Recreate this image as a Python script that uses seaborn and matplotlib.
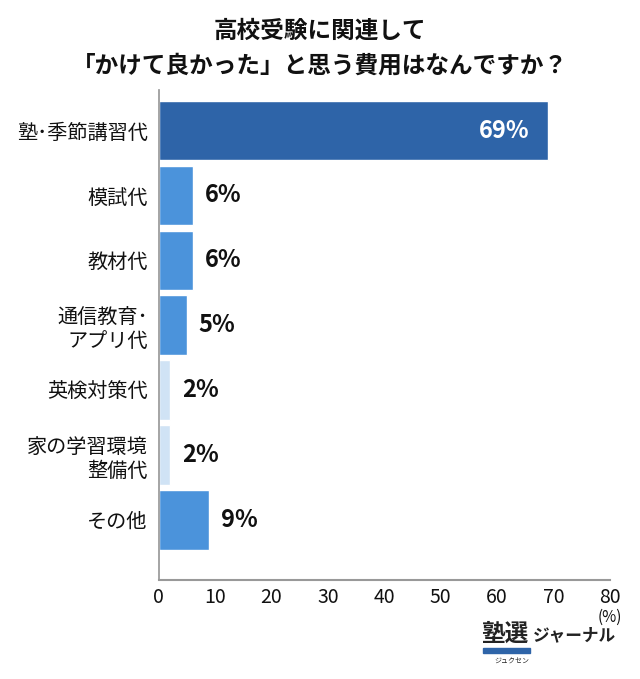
import matplotlib
matplotlib.use("Agg")
import matplotlib.pyplot as plt
import seaborn as sns
import pandas as pd

categories = ["塾･季節講習代", "模試代", "教材代", "通信教育･\nアプリ代", "英検対策代", "家の学習環境\n整備代", "その他"]
values = [69, 6, 6, 5, 2, 2, 9]
bar_colors = ["#2e64a8", "#4b93db", "#4b93db", "#4b93db", "#d0e3f5", "#d0e3f5", "#4b93db"]
x_ticks = [0, 10, 20, 30, 40, 50, 60, 70, 80]

sns.set_theme(style="white")
plt.rcParams["font.family"] = ["Noto Sans CJK JP", "DejaVu Sans"]

df = pd.DataFrame({"category": categories, "value": values})

fig = plt.figure(figsize=(6.4, 6.79), dpi=100)
ax = fig.add_axes([0.248, 0.146, 0.705, 0.721])

sns.barplot(data=df, x="value", y="category", hue="category", palette=bar_colors,
            legend=False, width=0.92, orient="h", ax=ax, saturation=1)

# 値ラベル
for i, v in enumerate(values):
    if v > 50:
        ax.text(v - 3.3, i, f"{v}%", color="white", fontsize=17, fontweight="bold",
                ha="right", va="center")
    else:
        ax.text(v + 2.1, i, f"{v}%", color="#111111", fontsize=17, fontweight="bold",
                ha="left", va="center")

ax.set_xlim(0, 80)
ax.set_ylim(6.92, -0.62)
ax.set_xticks(x_ticks)
ax.set_xlabel("")
ax.set_ylabel("")
ax.tick_params(axis="x", direction="in", length=7, width=1, color="#999999",
               labelsize=14, pad=5, labelcolor="#111111")
ax.tick_params(axis="y", length=0, labelsize=14.5, pad=8, labelcolor="#111111")
for lbl in ax.get_yticklabels():
    lbl.set_multialignment("right")
    lbl.set_linespacing(1.2)

for s in ["top", "right"]:
    ax.spines[s].set_visible(False)
ax.spines["left"].set_color("#999999")
ax.spines["bottom"].set_color("#999999")
ax.spines["bottom"].set_linewidth(1.5)

fig.text(0.5, 0.955, "高校受験に関連して", ha="center", va="center",
         fontsize=17, fontweight="bold", color="#111111")
fig.text(0.5, 0.904, "「かけて良かった」と思う費用はなんですか？", ha="center", va="center",
         fontsize=17, fontweight="bold", color="#111111")

fig.text(0.953, 0.091, "(%)", ha="center", va="center", fontsize=11, color="#111111")

# ロゴ
fig.text(0.789, 0.066, "塾選", ha="center", va="center", fontsize=17,
         fontweight="bold", color="#222222")
fig.add_artist(plt.Rectangle((0.755, 0.038), 0.073, 0.007, color="#2e64a8",
                             transform=fig.transFigure))
fig.text(0.8, 0.025, "ジュクセン", ha="center", va="center", fontsize=5, color="#222222")
fig.text(0.898, 0.064, "ジャーナル", ha="center", va="center", fontsize=12,
         fontweight="bold", color="#222222")

fig.savefig("out.png", dpi=100, facecolor="white")
